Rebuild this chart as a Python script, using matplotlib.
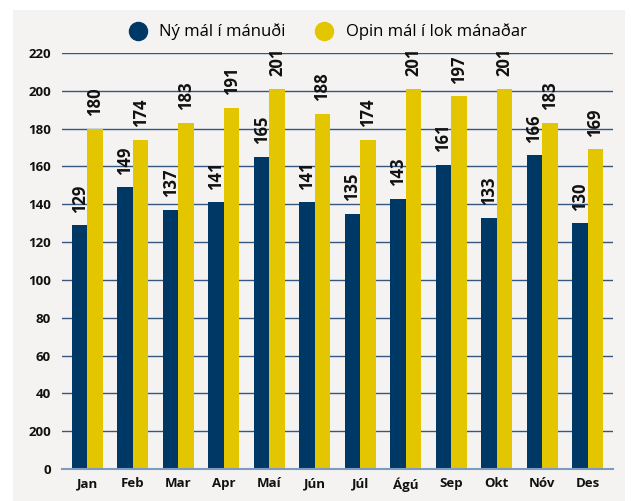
#!/usr/bin/env python3
"""Monthly cases chart: new cases vs open cases at month end."""

import matplotlib.pyplot as plt
import numpy as np
from matplotlib.lines import Line2D
from matplotlib.patches import Rectangle

months = ["Jan", "Feb", "Mar", "Apr", "Maí", "Jún", "Júl", "Ágú", "Sep", "Okt", "Nóv", "Des"]
new_cases = [129, 149, 137, 141, 165, 141, 135, 143, 161, 133, 166, 130]
open_cases = [180, 174, 183, 191, 201, 188, 174, 201, 197, 201, 183, 169]
y_ticks = [0, 20, 40, 60, 80, 100, 120, 140, 160, 180, 200, 220]
y_tick_labels = ["0", "200", "40", "60", "80", "100", "120", "140", "160", "180", "200", "220"]

NAVY = "#003865"
YELLOW = "#e3c500"
FONT = "Open Sans"

plt.rcParams["font.family"] = [FONT, "DejaVu Sans"]

fig = plt.figure(figsize=(6.35, 5.01), dpi=100)
fig.patches.append(
    Rectangle((13 / 635, 0), 612 / 635, 491 / 501, transform=fig.transFigure,
              facecolor="#f4f3f2", edgecolor="none", zorder=-10)
)
ax = fig.add_axes([62 / 635, 32 / 501, 551 / 635, 416 / 501])
ax.set_zorder(1)
ax.set_facecolor("none")

x = np.arange(len(months))
width = 0.34
bars_new = ax.bar(x - width / 2, new_cases, width, color=NAVY, zorder=3)
bars_open = ax.bar(x + width / 2, open_cases, width, color=YELLOW, zorder=3)

# value labels, rotated, sitting a little above each bar
for bars in (bars_new, bars_open):
    for rect in bars:
        h = rect.get_height()
        ax.annotate(f"{h:.0f}", (rect.get_x() + rect.get_width() / 2, h),
                    xytext=(0, 9), textcoords="offset points",
                    rotation=90, ha="center", va="bottom",
                    fontsize=12, fontweight="bold", color="#111111", zorder=4)

ax.set_xlim(-0.56, len(months) - 0.44)
ax.set_ylim(0, 220)
ax.set_yticks(y_ticks)
ax.set_yticklabels(y_tick_labels)
ax.set_xticks(x)
ax.set_xticklabels(months)
ax.tick_params(axis="both", length=0, labelsize=9.5, colors="#111111")
ax.tick_params(axis="y", pad=8)
ax.tick_params(axis="x", pad=6)
for lbl in ax.get_xticklabels() + ax.get_yticklabels():
    lbl.set_fontweight("bold")

ax.grid(axis="y", color="#34567f", linewidth=1.0, zorder=1)
ax.set_axisbelow(True)
for side in ("top", "right", "left"):
    ax.spines[side].set_visible(False)
ax.spines["bottom"].set_color("#7d9bc0")
ax.spines["bottom"].set_linewidth(1.5)
ax.spines["bottom"].set_zorder(5)

handles = [
    Line2D([], [], marker="o", linestyle="none", markersize=13, color=NAVY),
    Line2D([], [], marker="o", linestyle="none", markersize=13, color=YELLOW),
]
fig.legend(handles, ["Ný mál í mánuði", "Opin mál í lok mánaðar"],
           loc="center", bbox_to_anchor=(0.51, 0.936), ncol=2, frameon=False,
           fontsize=12, handletextpad=0.3, columnspacing=1.3)

fig.savefig("out.png", dpi=100)
